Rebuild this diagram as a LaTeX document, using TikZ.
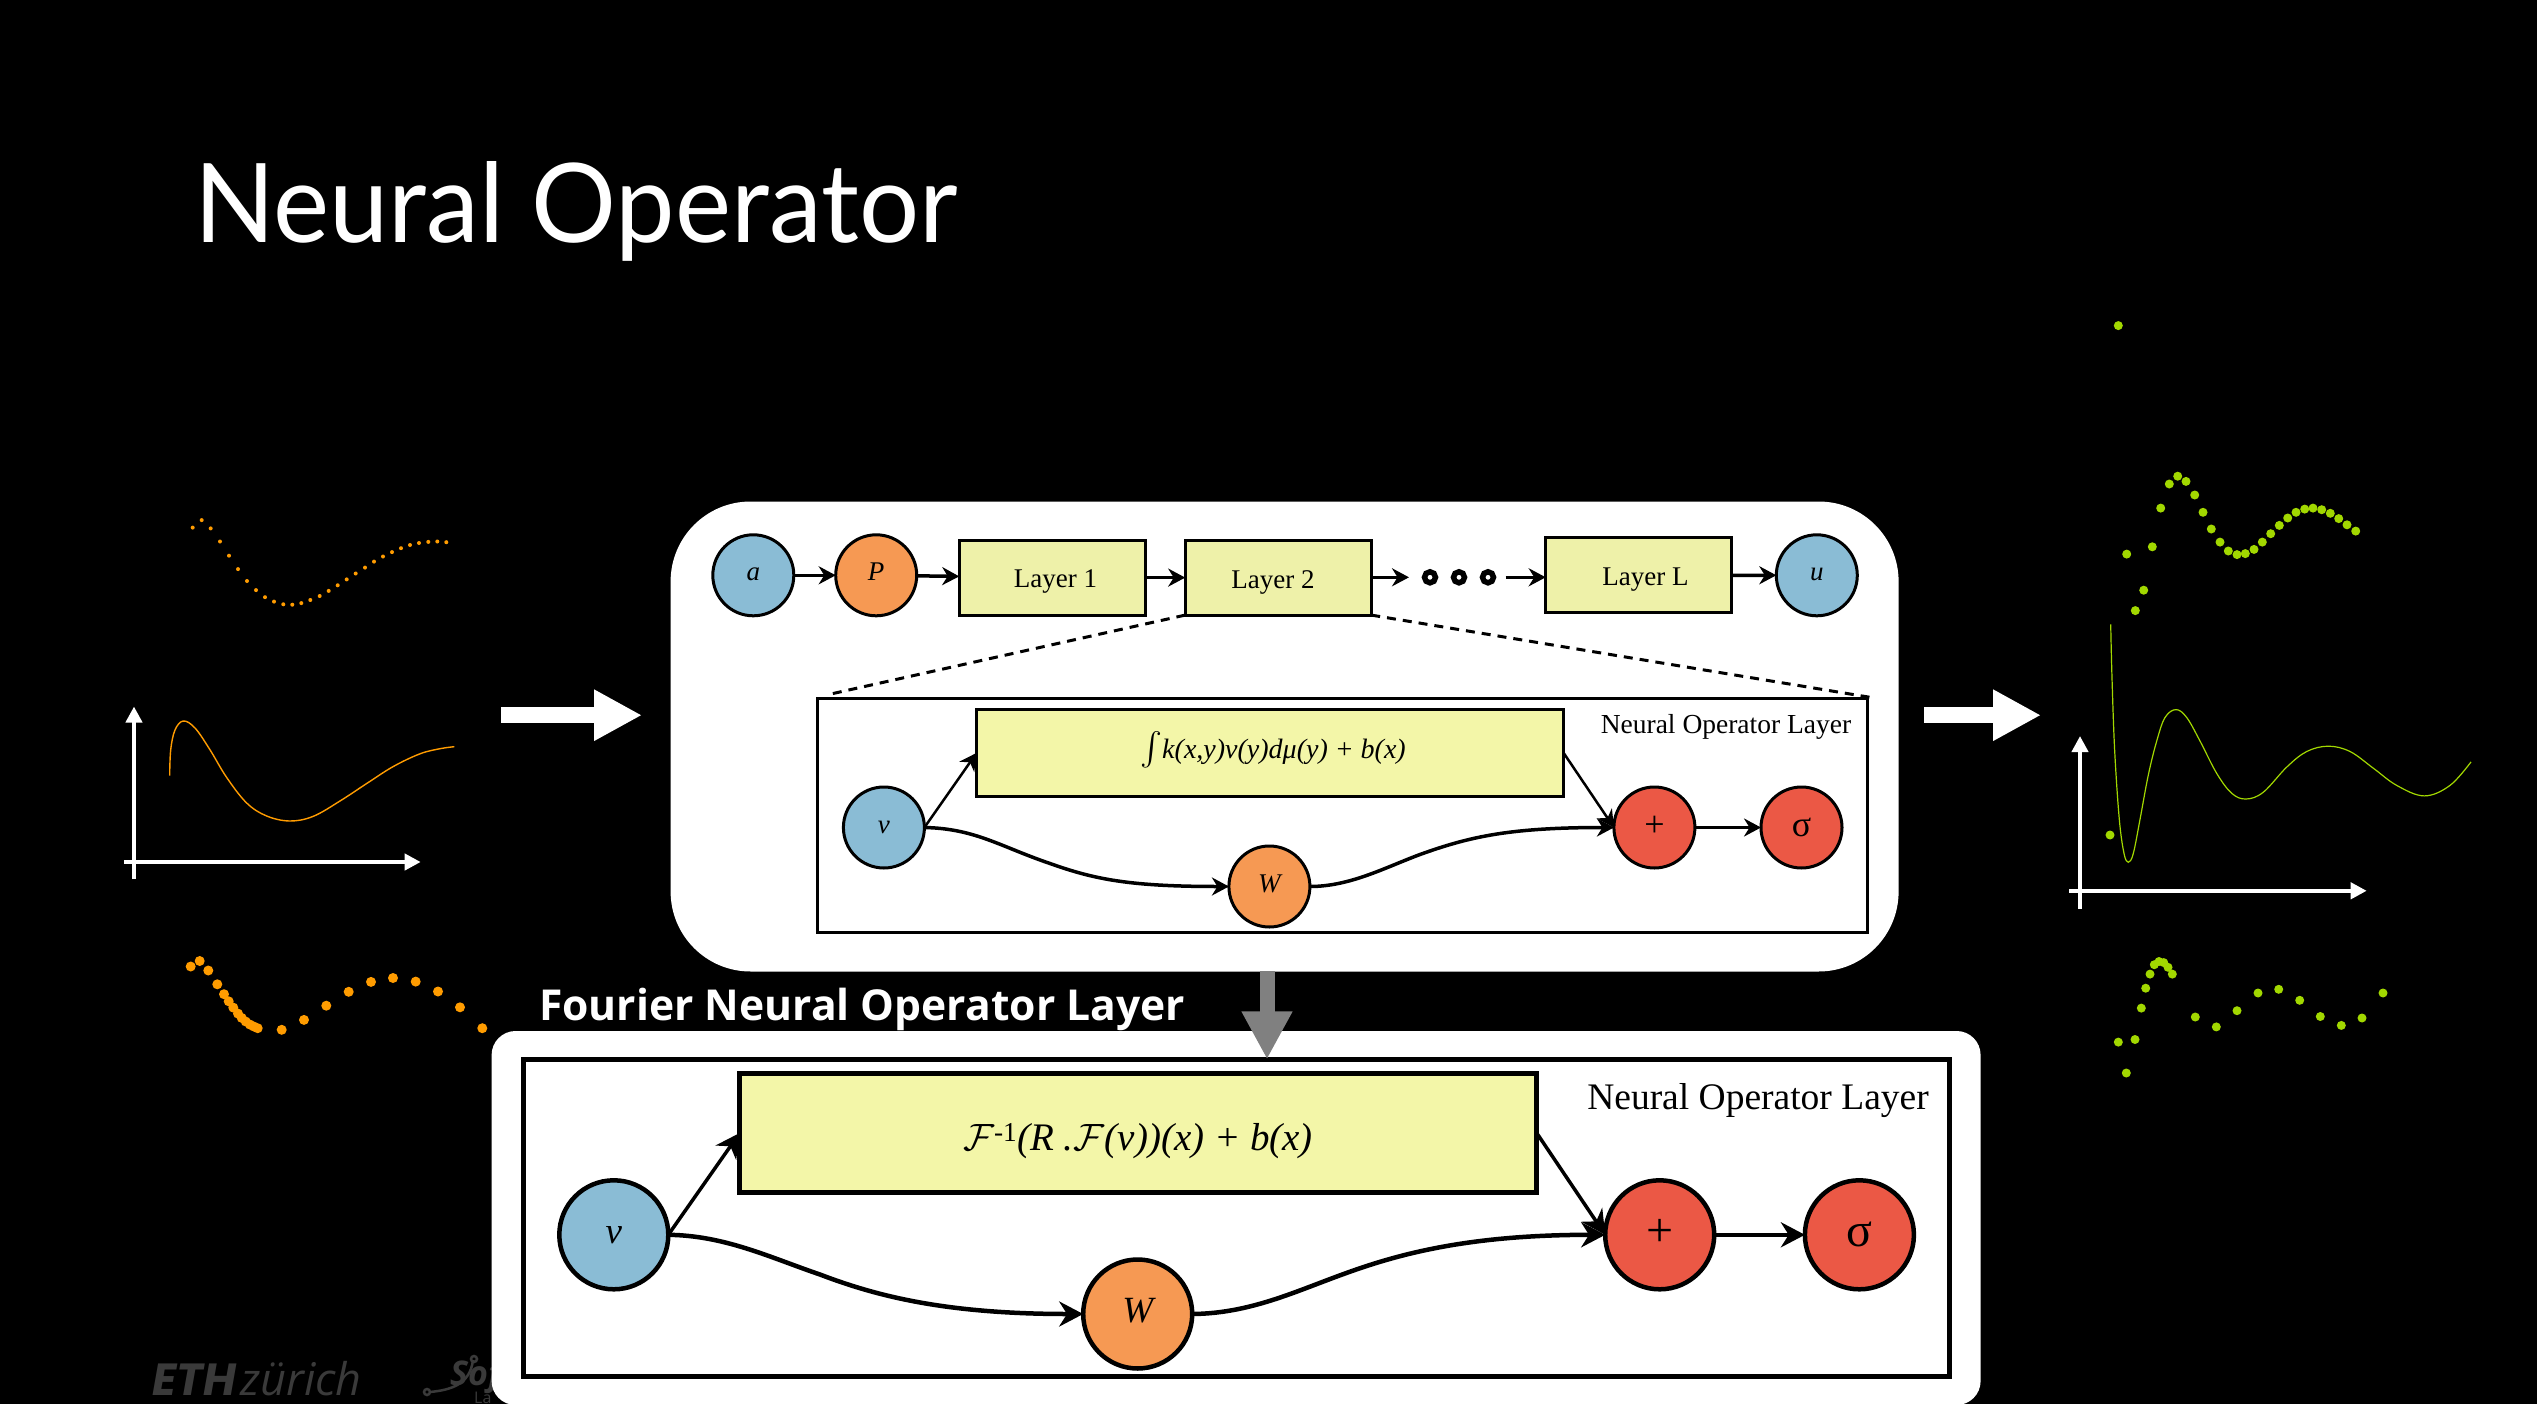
\documentclass[tikz,border=0pt]{standalone}
\usepackage{fontspec}
\setmainfont{Liberation Serif}
\newfontfamily\titlefont{Open Sans}
\newfontfamily\headfont{Lato}
\newfontfamily\ethfont{Poppins}
\usetikzlibrary{arrows.meta}
\newcommand{\setfs}[1]{\fontsize{#1}{#1}\selectfont}
\newcommand{\mathsym}[2]{\scalebox{#1}{\setfs{10}$#2$}}
\definecolor{nodeblue}{HTML}{8ABCD5}
\definecolor{nodeorange}{HTML}{F69953}
\definecolor{nodered}{HTML}{EB5845}
\definecolor{boxyellow}{HTML}{F3F6A8}
\definecolor{layeryellow}{HTML}{EEF1A9}
\definecolor{inorange}{HTML}{FF9C00}
\definecolor{outgreen}{HTML}{A2D800}
\definecolor{logogrey}{HTML}{3A3A3A}
\tikzset{
  ball/.style={circle,draw=black,line width=3pt,inner sep=0pt,outer sep=0pt,minimum size=81pt,text height=11pt,text depth=0pt,font=\setfs{27}\itshape},
  bigball/.style={ball,line width=4.5pt,minimum size=109pt,text height=16.7pt,font=\setfs{37}\itshape},
  layerbox/.style={rectangle,draw=black,line width=3pt,fill=layeryellow,inner sep=0pt,outer sep=0pt,minimum width=186pt,minimum height=75pt},
  layertext/.style={inner sep=0pt,text height=18pt,text depth=0pt,font=\setfs{27}},
  flow/.style={line width=3.5pt,-{Stealth[length=17pt,width=18pt]}},
  bigflow/.style={line width=4.5pt,-{Stealth[length=24pt,width=25pt]}},
  bigarrow/.style={white,line width=16pt,-{Triangle[length=48pt,width=48pt]}},
  axis/.style={white,line width=4pt,-{Triangle[length=16pt,width=16pt]}},
  zoomdash/.style={black,line width=3pt,dash pattern=on 9pt off 7pt},
}
\begin{document}
\begin{tikzpicture}[x=1pt,y=-1pt]
  \useasboundingbox (0,0) rectangle (2537,1404);
  \fill[black] (0,0) rectangle (2537,1404);

  \node[white,font=\headfont\setfs{110},anchor=base west,inner sep=0pt] (title) at (194,243) {\scalebox{0.965}[1]{Neural Operator}};

  % logos, the second one runs under the panel
  \node[logogrey,font=\setfs{45},anchor=base west,inner sep=0pt] (eth) at (152,1395) {{\ethfont\textbf{\textit{ETH}}}\hspace{4pt}{\titlefont\textit{zürich}}};
  \node[logogrey,font=\titlefont\setfs{34},anchor=base west,inner sep=0pt] (sof) at (450,1385) {\textbf{\textit{Sof}}};
  \node[logogrey,font=\titlefont\setfs{16},anchor=base west,inner sep=0pt] (lab) at (474,1403) {La};
  \draw[logogrey,line width=2.5pt] (427,1392) circle (3pt) (430,1392) .. controls (450,1390) and (470,1385) .. (473,1360) (474,1359) circle (3pt);

  % input function
  \foreach \px/\py in {192.7/527.6,201.7/520.1,210.7/528.4,220/541.5,229/555.7,238/569.1,247/581,256/590.1,265/597.2,274/601.6,283.3/604.3,292.3/604.7,301.3/603.1,310.3/600,319.7/596,328.7/590.9,337.7/585.3,346.7/579.4,355.7/573.5,365/567.6,374/561.6,383/556.5,392/552.1,401/548.2,410/545,419/543,428.3/541.9,437.3/541.5,446.3/542.2}
    \fill[inorange] (\px,\py) circle (2pt);
  \foreach \px/\py in {190.7/966.5,199.7/961,208.3/970.5,217.3/984.3,224/994.2,228.7/1001.3,233.3/1007.6,238/1013.6,241.7/1017.9,245.7/1021.5,250/1024.6,254/1026.6,257.7/1028.2,281.7/1029.8,304/1019.9,326.3/1005.7,348.7/991.8,371/981.9,393/978,415.7/981.6,438/991.5,460/1007.3,482.3/1028.2}
    \fill[inorange] (\px,\py) circle (5pt);
  \draw[axis] (134,879) -- (134,706.5);
  \draw[axis] (124,862) -- (420.7,862);
  \draw[inorange,line width=1.4pt] plot[smooth,tension=0.6] coordinates {(169.7,775.5) (170.7,749.8) (175,730) (183.3,721) (195,728) (210,749.8) (226.7,777.5) (246.7,803) (266.7,816) (290,821) (313.3,816.3) (340,801) (366.7,783.5) (393.3,766.5) (420,753.8) (440,748.7) (454.3,746.7)};

  % output function
  \foreach \px/\py in {2118.3/325.6,2126.7/554.1,2135.3/610.6,2143.7/590.2,2152.3/546.8,2160.7/508.1,2169.3/484,2177.7/476.2,2186/481.4,2194.7/495,2203/512.3,2211.3/529,2220/542.1,2228.3/551,2237/554.6,2245.3/553.6,2254/549.4,2262.3/542.1,2270.7/533.7,2279.3/525.4,2287.7/518,2296/512.3,2304.7/509.1,2313/508.1,2321.7/509.7,2330.3/513.3,2338.7/518.6,2347/524.8,2355.7/531.1,2110/835,2118.3/1042.1,2135/1039.5,2126.3/1073,2141.3/1008.1,2145.7/988.2,2150/974.1,2154.3/964.7,2159/961.5,2163.7/962.6,2168/967.3,2172.3/974.1,2195.3/1017,2216.3/1026.9,2237/1010.7,2258/993,2278.7/989.3,2299.7/1000.3,2320.3/1016.5,2341.3/1025.4,2362/1018,2383/993}
    \fill[outgreen] (\px,\py) circle (4.5pt);
  \draw[axis] (2080,908.5) -- (2080,736);
  \draw[axis] (2069.3,890.8) -- (2366.7,890.8);
  \draw[outgreen,line width=1.2pt] plot[smooth,tension=0.6] coordinates {(2110.7,624.4) (2112,678.2) (2114.7,751.4) (2119.3,819.4) (2124,853.4) (2128.3,862.3) (2133.3,853.4) (2140,819.4) (2148.3,775) (2156.7,741) (2165,717.5) (2176,709.6) (2186.7,717.5) (2200,741) (2216.7,773.4) (2231.7,793.3) (2246,799) (2263.3,792.2) (2286.7,767.1) (2306.7,751.5) (2328.3,746.2) (2350,751.5) (2373.3,768.2) (2396.7,785.4) (2424.3,795.9) (2450,785.4) (2471,761.9)};

  % white arrows
  \coordinate (inL) at (501,715.2);
  \coordinate (inR) at (642,715.2);
  \coordinate (outL) at (1924,715.2);
  \coordinate (outR) at (2041,715.2);
  \draw[bigarrow] (inL) -- (inR);
  \draw[bigarrow] (outL) -- (outR);

  % main panel
  \node[rectangle,fill=white,rounded corners=80pt,inner sep=0pt,minimum width=1228pt,minimum height=470pt] (mainpanel) at (1284.6,736.5) {};

  \node[ball,fill=nodeblue] (a) at (753.3,575.3) {a};
  \node[ball,fill=nodeorange] (P) at (876.2,575.3) {P};
  \node[layerbox] (layer1) at (1052.2,577.6) {};
  \node[layerbox] (layer2) at (1278.2,577.6) {};
  \node[layerbox] (layerL) at (1638.7,575.2) {};
  \node[layertext] (layer1text) at (1055.5,578) {Layer 1};
  \node[layertext] (layer2text) at (1273,579) {Layer 2};
  \node[layertext] (layerLtext) at (1645.5,576) {Layer L};
  \node[ball,fill=nodeblue] (u) at (1816.8,575.3) {u};
  \foreach \i/\px in {1/1430,2/1459,3/1488}
    \node[circle,draw=black,line width=5.5pt,inner sep=0pt,minimum size=11pt,outer sep=0pt] (ring\i) at (\px,577.3) {};
  \coordinate (gapL) at (1409,577.3);
  \coordinate (gapR) at (1505.6,577.3);

  \draw[flow] (a) -- (P);
  \draw[flow] (P) -- (layer1);
  \draw[flow] (layer1) -- (layer2);
  \draw[flow] (layer2.east |- gapL) -- (gapL);
  \draw[flow] (gapR) -- (gapR -| layerL.west);
  \draw[flow] (layerL) -- (u);

  % zoomed layer
  \node[rectangle,draw=black,fill=white,line width=3pt,inner sep=0pt,minimum width=1050pt,minimum height=234pt] (inner) at (1342.9,815.7) {};
  \draw[zoomdash,shorten >=10pt] (layer2.south west) -- (inner.north west);
  \draw[zoomdash] (layer2.south east) -- (inner.north east);
  \node[font=\setfs{27.5},inner sep=0pt] (innerlabel) at (1726,727) {Neural Operator Layer};
  \node[layerbox,fill=boxyellow,minimum width=587pt,minimum height=87pt] (kernel) at (1270.1,752.9) {};
  \node[font=\setfs{28},inner sep=0pt] (kerneltext) at (1273,750) {\mathsym{3.3}{\int}\textit{k(x,y)v(y)dμ(y) + b(x)}};
  \node[ball,fill=nodeblue] (v) at (883.9,827.5) {v};
  \node[ball,fill=nodeorange] (W) at (1269.4,886.5) {W};
  \node[ball,fill=nodered,font=\setfs{36},text height=17pt] (plus) at (1654.4,827.5) {+};
  \node[ball,fill=nodered,font=\setfs{36},text height=17pt] (sigma) at (1801.5,827.5) {σ};

  \draw[flow,line width=2.5pt] (v.east) -- (kernel.west);
  \draw[flow,line width=2.5pt] (kernel.east) -- (plus.west);
  \draw[flow] (v.east) .. controls (975,828.5) and (1000,846.5) .. (1050,863.5) .. controls (1095,879.5) and (1130,886.5) .. (W.west);
  \draw[flow] (W.east) .. controls (1350,886.5) and (1385,867.5) .. (1420,854.5) .. controls (1470,836.5) and (1510,827.5) .. (plus.west);
  \draw[flow] (plus) -- (sigma);

  % fourier layer
  \node[white,font=\titlefont\bfseries\setfs{42.6},anchor=base west,inner sep=0pt] (fnotitle) at (539,1020) {Fourier Neural Operator Layer};
  \node[rectangle,fill=white,rounded corners=24pt,inner sep=0pt,minimum width=1489pt,minimum height=374pt] (fnopanel) at (1236.1,1218) {};
  \node[rectangle,draw=black,fill=white,line width=4.5pt,inner sep=0pt,minimum width=1426pt,minimum height=316.7pt] (fnoinner) at (1236.6,1218) {};
  \coordinate (greytop) at (1267,971);
  \draw[gray,line width=15pt,-{Triangle[length=48pt,width=47.5pt]}] (greytop) -- ([yshift=-2pt]greytop |- fnoinner.north);

  \node[font=\setfs{37.5},inner sep=0pt] (fnolabel) at (1758,1101) {Neural Operator Layer};
  \node[layerbox,fill=boxyellow,line width=4.5pt,minimum width=797pt,minimum height=118.7pt] (fourier) at (1138.2,1133) {};
  \node[font=\setfs{39},inner sep=0pt] (fouriertext) at (1138,1141) {\mathsym{3.8}{\mathcal{F}}\textsuperscript{-1}\textit{(R .}\mathsym{3.8}{\mathcal{F}}\textit{(v))(x) + b(x)}};
  \node[bigball,fill=nodeblue] (fv) at (613.8,1234.8) {v};
  \node[bigball,fill=nodeorange] (fW) at (1137.7,1314) {W};
  \node[bigball,fill=nodered,font=\setfs{48},text height=24pt] (fplus) at (1659.7,1234.8) {+};
  \node[bigball,fill=nodered,font=\setfs{48},text height=24pt] (fsigma) at (1859.4,1234.8) {σ};

  \draw[bigflow,line width=3.5pt] (fv.east) -- (fourier.west);
  \draw[bigflow,line width=3.5pt] (fourier.east) -- (fplus.west);
  \draw[bigflow] (fv.east) .. controls (725,1235.5) and (770,1257.5) .. (820,1274.5) .. controls (880,1297.5) and (950,1314) .. (fW.west);
  \draw[bigflow] (fW.east) .. controls (1250,1313.5) and (1295,1291.5) .. (1345,1273.5) .. controls (1400,1253.5) and (1470,1234.8) .. (fplus.west);
  \draw[bigflow] (fplus) -- (fsigma);
\end{tikzpicture}
\end{document}
